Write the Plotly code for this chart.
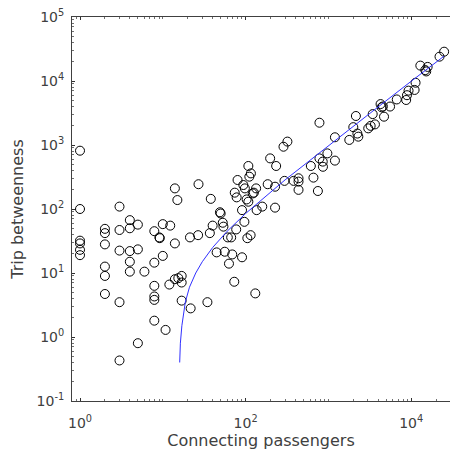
import plotly.graph_objects as go

# Scatter data (connecting passengers, trip betweenness)
pass_x = [1, 1, 1, 1, 1, 1,
          2, 2, 2, 2, 2, 2,
          3, 3, 3, 3, 3,
          4, 4, 4, 4, 4,
          5, 5, 5, 6,
          7.9, 7.9, 7.9, 7.9, 7.9, 7.9,
          9.1, 9.2, 10, 10, 10.8, 12, 12.3,
          14, 14, 15, 14, 15.4, 16.9, 16.9, 16.9,
          21.3, 21.7, 26.7, 27, 34.6, 37, 38, 40, 44.7, 49, 50,
          53, 54, 56, 61, 63, 67, 69, 73, 74, 77, 78, 80,
          90.6, 90.6, 94, 96.7, 98, 103, 105, 108, 108, 111, 115, 116,
          122, 126, 134, 131, 136, 159, 185, 198, 227, 227, 234,
          287, 320, 295, 380, 436, 436, 436, 614, 660, 747, 780, 780,
          855, 860, 972, 1200, 1200, 1790, 2000, 2150, 2240, 2300,
          3030, 3240, 3430, 3650, 4270, 4400, 4550, 4700, 5560, 6700,
          8700, 8900, 9300, 11000, 11300, 12900, 14800, 15200, 15800,
          22000, 25000]
betw_y = [815, 100, 32, 29, 23, 19,
          49, 42, 28, 12.6, 9, 4.7,
          109, 47, 22.4, 3.5, 0.43,
          67, 50, 22, 15, 10.5,
          57, 23.4, 0.8, 10.5,
          45, 14.5, 6.3, 4.3, 3.8, 1.8,
          36, 35, 58, 18.5, 1.29, 6.6, 55,
          210, 29, 138, 8, 8.3, 9, 7.1, 3.7,
          36, 2.8, 39, 244, 3.5, 42, 144, 55, 21, 89, 85,
          61, 53, 21.5, 36, 14, 36, 19.5, 7.3, 180, 48, 152, 284,
          17.6, 96, 237, 63, 210, 141, 35, 470, 130, 320, 39, 360,
          175, 180, 210, 4.8, 96, 109, 244, 618, 223, 105, 470,
          940, 1130, 275, 275, 268, 302, 199, 470, 309, 191, 2230, 618,
          550, 457, 740, 570, 1320, 1200, 1900, 2840, 1510, 1350,
          1820, 1990, 3040, 2100, 4360, 3880, 4000, 2770, 3990, 5150,
          5050, 6000, 7070, 7250, 9400, 17400, 14800, 14100, 16600,
          24000, 28700]

# Fitted curve, points
fit_x = [16.0, 16.3, 17.0, 18.7, 21, 25, 30, 40, 60, 100, 300, 1000, 3000, 10000, 25000]
fit_y = [0.4, 0.8, 1.5, 3.5, 6, 10, 15, 25, 45, 85, 285, 980, 2950, 9900, 24500]

x_tickvals = [1, 100, 10000]
x_ticktext = ["10<sup>0</sup>", "10<sup>2</sup>", "10<sup>4</sup>"]
y_tickvals = [0.1, 1, 10, 100, 1000, 10000, 100000]
y_ticktext = ["10<sup>-1</sup>", "10<sup>0</sup>", "10<sup>1</sup>", "10<sup>2</sup>",
              "10<sup>3</sup>", "10<sup>4</sup>", "10<sup>5</sup>"]

fig = go.Figure()
fig.add_trace(go.Scatter(
    x=pass_x, y=betw_y, mode="markers",
    marker=dict(symbol="circle-open", size=9, color="black", line=dict(width=1, color="black")),
    showlegend=False, hoverinfo="skip"))
fig.add_trace(go.Scatter(
    x=fit_x, y=fit_y, mode="lines",
    line=dict(color="#3030ff", width=1),
    showlegend=False, hoverinfo="skip"))

axis_font = dict(family="DejaVu Sans", size=14, color="#404040")
title_font = dict(family="DejaVu Sans", size=16, color="#404040")
fig.update_layout(
    width=450, height=453,
    margin=dict(l=72, r=0, t=17, b=52),
    plot_bgcolor="white", paper_bgcolor="white",
    font=dict(family="DejaVu Sans", color="#404040"),
)
fig.update_xaxes(
    type="log", range=[-0.0966, 4.469],
    tickvals=x_tickvals, ticktext=x_ticktext, tickfont=axis_font,
    ticks="inside", ticklen=3, tickcolor="#303030", ticklabelstandoff=9,
    showline=True, linecolor="#404040", linewidth=1, mirror="ticks",
    showgrid=False, zeroline=False,
    minor=dict(ticks="inside", ticklen=2, tickcolor="#707070", dtick="D1", showgrid=False),
    title=dict(text="Connecting passengers", font=title_font, standoff=5),
)
fig.update_yaxes(
    type="log", range=[-1, 5],
    tickvals=y_tickvals, ticktext=y_ticktext, tickfont=axis_font,
    ticks="inside", ticklen=3, tickcolor="#303030", ticklabelstandoff=4,
    showline=True, linecolor="#404040", linewidth=1, mirror=False,
    showgrid=False, zeroline=False,
    minor=dict(ticks="inside", ticklen=2, tickcolor="#707070", dtick="D1", showgrid=False),
    title=dict(text="Trip betweenness", font=title_font, standoff=8),
)

fig.write_html("out.html")
